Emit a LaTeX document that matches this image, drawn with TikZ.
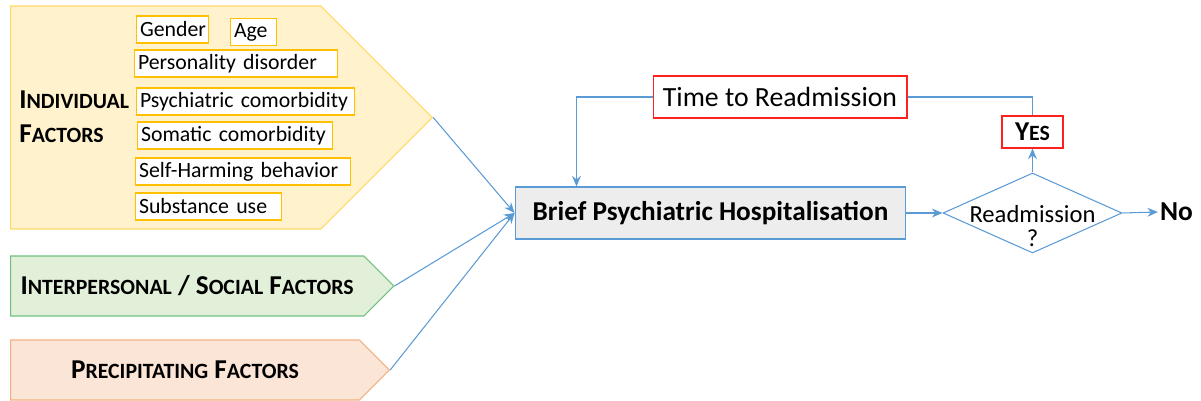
\documentclass[tikz,border=0pt]{standalone}
\usepackage{fontspec}
\setmainfont{Carlito}
\usetikzlibrary{shapes.geometric,shapes.symbols,arrows.meta}

\definecolor{indfill}{HTML}{FFF2CC}
\definecolor{indline}{HTML}{FFD966}
\definecolor{itemline}{HTML}{FFC000}
\definecolor{socfill}{HTML}{E2F0D9}
\definecolor{socline}{HTML}{70C080}
\definecolor{prefill}{HTML}{FBE5D6}
\definecolor{preline}{HTML}{F4B183}
\definecolor{hospfill}{HTML}{EDEDED}
\definecolor{flow}{HTML}{5B9BD5}
\definecolor{outred}{HTML}{FF2020}

% big first letter, smaller capitals after it
\newcommand{\capsc}[2]{{\fontsize{15.5}{19.3}\selectfont#1}{\fontsize{12.4}{19.3}\selectfont#2}}

\tikzset{
  factor/.style={signal, signal to=east, signal pointer angle=90, line width=0.6pt,
    minimum height=1.2cm, inner xsep=0.2cm, font=\bfseries\fontsize{15.5}{19.3}\selectfont},
  item/.style={draw=itemline, fill=white, line width=0.6pt, anchor=west, align=left,
    minimum height=0.54cm, inner xsep=2pt, inner ysep=0pt, font=\fontsize{12.4}{14}\selectfont},
  redbox/.style={draw=outred, fill=white, line width=0.6pt},
  arr/.style={draw=flow, line width=0.6pt, -{Stealth[length=6pt,width=5pt]}},
  link/.style={draw=flow, line width=0.6pt}
}

\begin{document}
\begin{tikzpicture}[x=0.02cm, y=-0.02cm]
  \useasboundingbox (0,0) rectangle (1201,401);

  \node[factor, draw=indline, fill=indfill, minimum width=8.44cm, minimum height=4.46cm,
    anchor=west] (ind) at (10,117.5) {};
  \node[anchor=west, align=left, inner sep=0pt, font=\bfseries\fontsize{15.5}{19.3}\selectfont]
    (indlab) at (19,117) {\capsc{I}{NDIVIDUAL}\\\capsc{F}{ACTORS}};

  \node[item, text width=1.3cm]  (gender) at (136,29.5)  {Gender};
  \node[item, text width=0.78cm] (age)    at (230,32)    {Age};
  \node[item, text width=3.92cm] (pers)   at (134,63.5)  {Personality disorder};
  \node[item, text width=4.22cm] (psych)  at (136,101.5) {Psychiatric comorbidity};
  \node[item, text width=3.76cm] (soma)   at (137,135.5) {Somatic comorbidity};
  \node[item, text width=4.16cm] (harm)   at (135,171.5) {Self-Harming behavior};
  \node[item, text width=2.78cm] (subst)  at (135,206.5) {Substance use};

  \node[factor, draw=socline, fill=socfill, anchor=west] (soc) at (10,286)
    {\capsc{I}{NTERPERSONAL} / \capsc{S}{OCIAL} \capsc{F}{ACTORS}};
  \node[factor, draw=preline, fill=prefill, anchor=west, minimum width=7.58cm] (pre) at (10,370)
    {\capsc{P}{RECIPITATING} \capsc{F}{ACTORS}};

  \node[draw=flow, fill=hospfill, line width=0.6pt, minimum width=7.82cm, minimum height=1.04cm,
    font=\bfseries\fontsize{15.5}{18}\selectfont] (hosp) at (710.5,213)
    {Brief Psychiatric Hospitalisation};
  \node[redbox, minimum width=5.08cm, minimum height=0.84cm, font=\fontsize{15.8}{18}\selectfont]
    (time) at (780,97) {Time to Readmission};
  \node[redbox, minimum width=1.22cm, minimum height=0.64cm, inner sep=0pt, font=\bfseries]
    (yes) at (1032.5,132) {\capsc{Y}{ES}};
  \node[diamond, draw=flow, line width=0.6pt, aspect=2.24, inner sep=0pt,
    minimum width=3.58cm, minimum height=1.6cm,
    label={[yshift=-0.26cm, align=center, font=\fontsize{14}{14}\selectfont]center:Readmission\\?}]
    (readm) at (1032.5,213) {};
  \node[anchor=west, inner sep=1pt, font=\bfseries\fontsize{15.6}{18}\selectfont] (no) at (1158,212) {No};

  \draw[arr] (ind.east) -- (hosp.west);
  \draw[arr] (soc.east) -- (hosp.west);
  \draw[arr] (pre.east) -- (hosp.west);
  \draw[arr] (hosp.east) -- (readm.west);
  \draw[arr] (readm.east) -- (no.west);
  \draw[arr] (readm.north) -- (yes.south);
  \draw[link] (yes.north) |- (time.east);
  \draw[arr] (time.west) -| ([xshift=1.24cm]hosp.north west);
\end{tikzpicture}
\end{document}
